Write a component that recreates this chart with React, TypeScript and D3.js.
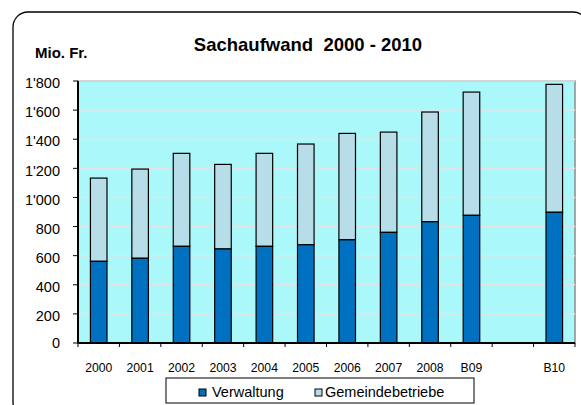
import React from 'react';
import * as d3 from 'd3';

const categories = ['2000', '2001', '2002', '2003', '2004', '2005', '2006', '2007', '2008', 'B09', '', 'B10'];
const verwaltung = [561, 582, 664, 646, 664, 675, 709, 760, 833, 877, null, 898];
const gemeindebetriebe = [572, 613, 639, 581, 639, 692, 731, 689, 754, 847, null, 879];
const yTicks = [0, 200, 400, 600, 800, 1000, 1200, 1400, 1600, 1800];

const fmt = (v: number) => d3.format(',')(v).replace(/,/g, "'");

const colDark = '#0070c0';
const colLight = '#b7dde8';
const plotBg = '#aaf8fa';

const margin = { l: 78, r: 6, t: 81, b: 62 };
const W = 581, H = 405;

export default function App() {
  const innerW = W - margin.l - margin.r;
  const innerH = H - margin.t - margin.b;

  const x = d3.scaleBand<number>()
    .domain(d3.range(categories.length))
    .range([0, innerW])
    .paddingInner(0.6)
    .paddingOuter(0.3);
  const slot = d3.scaleLinear().domain([0, categories.length]).range([0, innerW]);
  const y = d3.scaleLinear().domain([0, 1800]).range([innerH, 0]);

  return (
    <svg width={W} height={H} style={{ position: 'absolute', left: 0, top: 0, fontFamily: 'Liberation Sans, Arial, sans-serif' }}>
      <rect x={13} y={12} width={575} height={405} rx={15} fill="#fff" stroke="#000" strokeWidth={1.3} />
      <text x={308} y={51} textAnchor="middle" fontWeight="bold" fontSize={18.5} style={{ whiteSpace: 'pre' }}>Sachaufwand  2000 - 2010</text>
      <text x={35} y={58} fontWeight="bold" fontSize={15}>Mio. Fr.</text>
      <g transform={`translate(${margin.l},${margin.t})`}>
        <rect x={0} y={0} width={innerW} height={innerH} fill={plotBg} stroke="#8c8c8c" strokeWidth={1.5} />
        {yTicks.slice(1).map(t => (
          <line key={t} x1={0} x2={innerW} y1={y(t)} y2={y(t)} stroke="#e4e4e4" strokeWidth={1.5} />
        ))}
        {categories.map((c, i) => {
          const v1 = verwaltung[i];
          const v2 = gemeindebetriebe[i];
          if (v1 == null || v2 == null) return null;
          const bx = x(i)!;
          return (
            <g key={i}>
              <rect x={bx} y={y(v1 + v2)} width={x.bandwidth()} height={y(v1) - y(v1 + v2)} fill={colLight} stroke="#000" strokeWidth={1.2} />
              <rect x={bx} y={y(v1)} width={x.bandwidth()} height={y(0) - y(v1)} fill={colDark} stroke="#000" strokeWidth={1.2} />
            </g>
          );
        })}
        <line x1={0} x2={0} y1={0} y2={innerH} stroke="#000" strokeWidth={2} />
        <line x1={0} x2={innerW} y1={innerH} y2={innerH} stroke="#000" strokeWidth={2} />
        {yTicks.map(t => (
          <g key={t} transform={`translate(0,${y(t)})`}>
            <line x1={-5} x2={0} stroke="#000" strokeWidth={1} />
            <text x={-18} y={t === 0 ? 0 : 2} dy="0.36em" textAnchor="end" fontSize={14.5}>{fmt(t)}</text>
          </g>
        ))}
        {d3.range(categories.length + 1).map(i => (
          <line key={i} x1={slot(i)} x2={slot(i)} y1={innerH} y2={innerH + 4} stroke="#000" strokeWidth={1} />
        ))}
        {categories.map((c, i) => (
          <text key={i} x={x(i)! + x.bandwidth() / 2} y={innerH + 29} textAnchor="middle" fontSize={12.2}>{c}</text>
        ))}
      </g>
      <g transform="translate(166,378)">
        <rect x={0} y={0} width={308} height={25} fill="#fff" stroke="#000" strokeWidth={1} />
        <rect x={33} y={11} width={7} height={7} fill={colDark} stroke="#000" strokeWidth={1} />
        <text x={46} y={18.5} fontSize={14.5}>Verwaltung</text>
        <rect x={149} y={11} width={7} height={7} fill={colLight} stroke="#000" strokeWidth={1} />
        <text x={159} y={18.5} fontSize={14.5}>Gemeindebetriebe</text>
      </g>
    </svg>
  );
}
